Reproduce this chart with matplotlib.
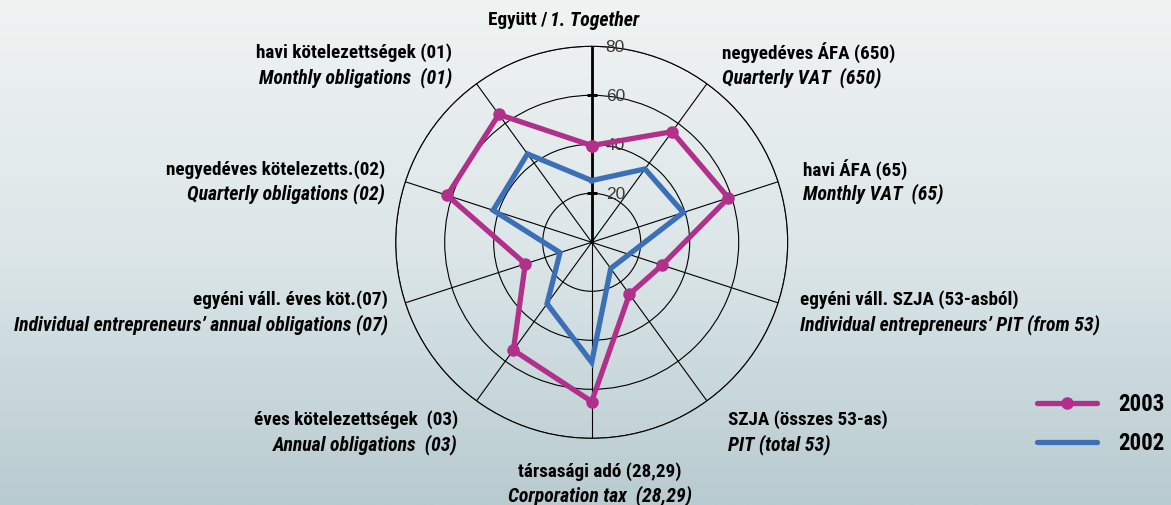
import numpy as np
import matplotlib
matplotlib.use("Agg")
import matplotlib.pyplot as plt
from matplotlib import transforms, font_manager as fm
from matplotlib.colors import LinearSegmentedColormap

# ---------------- data ----------------
labels_hu = ["Együtt /", "negyedéves ÁFA (650)", "havi ÁFA (65)",
             "egyéni váll. SZJA (53-asból)", "SZJA (összes 53-as)",
             "társasági adó (28,29)", "éves kötelezettségek  (03)",
             "egyéni váll. éves köt.(07)", "negyedéves kötelezetts.(02)",
             "havi kötelezettségek (01)"]
labels_en = ["1. Together", "Quarterly VAT  (650)", "Monthly VAT  (65)",
             "Individual entrepreneurs’ PIT (from 53)", "PIT (total 53)",
             "Corporation tax  (28,29)", "Annual obligations  (03)",
             "Individual entrepreneurs’ annual obligations (07)",
             "Quarterly obligations (02)", "Monthly obligations  (01)"]
values_2003 = [39.5, 55.8, 58.7, 30.2, 26.2, 65.0, 54.4, 28.5, 62.0, 64.5]
values_2002 = [25.2, 37.0, 39.3, 16.0, 13.2, 49.0, 31.0, 13.6, 42.3, 44.6]
r_ticks = [20, 40, 60, 80]
series_names = ["2003", "2002"]

# ---------------- fonts ----------------
available = {f.name for f in fm.fontManager.ttflist}
prefs = ["Roboto Condensed", "Archivo Narrow", "PT Sans Narrow",
         "Fira Sans Condensed", "IBM Plex Sans Condensed", "Asap Condensed",
         "Barlow Semi Condensed", "Encode Sans Condensed", "Open Sans"]
cond = next((p for p in prefs if p in available), "DejaVu Sans")
FONT = [cond, "DejaVu Sans"]

# ---------------- style ----------------
W, H = 1171, 506
C_MAG = "#b0308a"
C_BLUE = "#3b6fb6"

fig = plt.figure(figsize=(W / 100, H / 100), dpi=100)

bg = fig.add_axes([0, 0, 1, 1], zorder=-10)
cmap = LinearSegmentedColormap.from_list("bg", ["#f0f3f2", "#dce6e8", "#b8cbd0"])
grad = np.linspace(0, 1, 256).reshape(-1, 1)
bg.imshow(grad, aspect="auto", cmap=cmap, extent=[0, 1, 0, 1], origin="upper")
bg.set_axis_off()

def px(x, y):
    return x / W, 1 - y / H

cx, cy, R = 591.7, 243.3, 196.0
ax = fig.add_axes([(cx - R) / W, (H - cy - R) / H, 2 * R / W, 2 * R / H],
                  projection="polar")
ax.patch.set_alpha(0)
ax.set_theta_zero_location("N")
ax.set_theta_direction(-1)
ax.set_ylim(0, 80)

n = len(values_2003)
theta = np.arange(n) * 2 * np.pi / n
ax.set_xticks(theta)
ax.set_xticklabels([])
ax.set_yticks(r_ticks)
ax.set_yticklabels([])
ax.grid(True, color="black", lw=0.8)
ax.spines["polar"].set_color("black")
ax.spines["polar"].set_linewidth(0.8)
ax.tick_params(length=0)

ax.plot([0, 0], [0, 80], color="black", lw=2.0, zorder=3)
ax.plot([0] * 3, r_ticks[:3], linestyle="none", marker="_", markersize=7,
        mew=2.0, color="black", zorder=3)
off = transforms.offset_copy(ax.transData, fig=fig, x=14, y=0, units="dots")
for r in r_ticks:
    ax.text(0, r, str(r), transform=off, ha="left", va="center",
            fontsize=12.5, color="#3a3a3a", family=["Liberation Sans", "DejaVu Sans"],
            zorder=4)

th_c = np.concatenate([theta, theta[:1]])
v3 = np.concatenate([values_2003, values_2003[:1]])
v2 = np.concatenate([values_2002, values_2002[:1]])
ax.plot(th_c, v2, color=C_BLUE, lw=3.8, solid_joinstyle="miter", zorder=5)
ax.plot(th_c, v3, color=C_MAG, lw=3.8, marker="o", markersize=8,
        solid_joinstyle="miter", zorder=6)

# ---------------- labels ----------------
FS1 = 13.8
FS2 = 14.2
label_pos = [None,
             (722, 53, 78, "left"),
             (803, 170, 194, "left"),
             (800, 300, 325, "left"),
             (728, 420, 445, "left"),
             (600, 472, 496, "center"),
             (458, 420, 445, "right"),
             (388, 300, 325, "right"),
             (385, 170, 194, "right"),
             (452, 53, 78, "right")]
for i in range(1, n):
    x, y1, y2, ha = label_pos[i]
    fig.text(*px(x, y1), labels_hu[i], ha=ha, va="center", fontsize=FS1,
             fontweight="bold", family=FONT)
    fig.text(*px(x, y2), labels_en[i], ha=ha, va="center", fontsize=FS2,
             fontweight="bold", style="italic", family=FONT)
fig.text(*px(548, 20), labels_hu[0], ha="right", va="center", fontsize=FS1,
         fontweight="bold", family=FONT)
fig.text(*px(550, 20), labels_en[0], ha="left", va="center", fontsize=FS2,
         fontweight="bold", style="italic", family=FONT)

# ---------------- legend ----------------
lg = fig.add_axes([0, 0, 1, 1], zorder=5)
lg.set_xlim(0, W)
lg.set_ylim(H, 0)
lg.set_axis_off()
lg.plot([1037, 1097], [404, 404], color=C_MAG, lw=3.8, solid_capstyle="round")
lg.plot([1067], [404], color=C_MAG, marker="o", markersize=8)
lg.plot([1037, 1097], [443, 443], color=C_BLUE, lw=3.8, solid_capstyle="round")
lg.text(1118, 405, series_names[0], ha="left", va="center", fontsize=16.5,
        fontweight="bold", family=FONT)
lg.text(1118, 444, series_names[1], ha="left", va="center", fontsize=16.5,
        fontweight="bold", family=FONT)

fig.savefig("out.png", dpi=100)
